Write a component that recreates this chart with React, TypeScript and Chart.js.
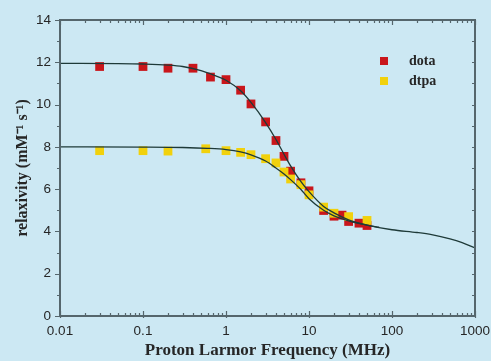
import React, { useEffect, useRef } from 'react';
import { Chart, registerables } from 'chart.js';
Chart.register(...registerables);

// ---- data ----
const xTickValues = [0.01, 0.1, 1, 10, 100, 1000];
const yTickValues = [0, 2, 4, 6, 8, 10, 12, 14];

const dotaFreq = [0.03, 0.1, 0.2, 0.4, 0.65, 1, 1.5, 2, 3, 4, 5, 6, 8, 10, 15, 20, 25, 30, 40, 50];
const dotaRelax = [11.8, 11.8, 11.72, 11.72, 11.3, 11.18, 10.68, 10.03, 9.18, 8.3, 7.55, 6.85, 6.3, 5.92, 4.99, 4.72, 4.77, 4.47, 4.39, 4.28];

const dtpaFreq = [0.03, 0.1, 0.2, 0.57, 1, 1.5, 2, 3, 4, 5, 6, 8, 10, 15, 20, 30, 50];
const dtpaRelax = [7.82, 7.82, 7.8, 7.91, 7.82, 7.74, 7.63, 7.44, 7.24, 6.81, 6.48, 6.21, 5.73, 5.15, 4.86, 4.7, 4.52];

const dotaFitFreq = [0.01, 0.05, 0.1, 0.2, 0.3, 0.5, 0.7, 1, 1.5, 2, 3, 4, 5, 6, 8, 10, 15, 20, 30, 50, 100, 200, 300, 500, 700, 1000];
const dotaFitRelax = [11.95, 11.94, 11.92, 11.87, 11.8, 11.6, 11.4, 11.15, 10.65, 10.1, 9.15, 8.35, 7.65, 7.1, 6.35, 5.88, 5.18, 4.88, 4.55, 4.3, 4.08, 3.95, 3.85, 3.65, 3.47, 3.22];

const dtpaFitFreq = [0.01, 0.1, 0.3, 0.6, 1, 1.5, 2, 3, 4, 5, 6, 8, 10, 15, 20, 30, 50, 70];
const dtpaFitRelax = [8.0, 7.99, 7.97, 7.93, 7.87, 7.76, 7.62, 7.33, 7.0, 6.72, 6.45, 5.98, 5.55, 5.0, 4.74, 4.5, 4.3, 4.2];

// ---- styles ----
const BG = '#cce8f3';
const RED = '#c9161b';
const YELLOW = '#f1d10c';
const LINE = '#1e3a38';
const AXIS = '#55666c';
const TEXT = '#262626';

const toPts = (xs: number[], ys: number[]) => xs.map((x, i) => ({ x, y: ys[i] }));

const bgPlugin = {
  id: 'bg',
  beforeDraw(chart: any) {
    const { ctx, width, height } = chart;
    ctx.save();
    ctx.fillStyle = BG;
    ctx.fillRect(0, 0, width, height);
    ctx.restore();
  },
};

const framePlugin = {
  id: 'frame',
  afterDraw(chart: any) {
    const { ctx, chartArea: a, scales } = chart;
    const x = scales.x;
    const y = scales.y;
    ctx.save();
    ctx.strokeStyle = AXIS;
    ctx.lineWidth = 1.2;
    for (let d = -2; d <= 3; d++) {
      for (let m = 1; m <= 9; m++) {
        const v = m * Math.pow(10, d);
        if (v > 1000.0001) continue;
        const px = Math.round(x.getPixelForValue(v)) + 0.5;
        const major = m === 1;
        const len = major ? 5 : 3;
        ctx.beginPath();
        ctx.moveTo(px, a.bottom + (major ? 2 : 0));
        ctx.lineTo(px, a.bottom - len);
        ctx.moveTo(px, a.top);
        ctx.lineTo(px, a.top + len);
        ctx.stroke();
      }
    }
    for (let v = 0; v <= 14; v++) {
      const py = Math.round(y.getPixelForValue(v)) + 0.5;
      const major = v % 2 === 0;
      ctx.beginPath();
      ctx.moveTo(a.left, py);
      ctx.lineTo(a.left - (major ? 5 : 3), py);
      ctx.moveTo(a.right, py);
      ctx.lineTo(a.right - 3, py);
      ctx.stroke();
    }
    ctx.lineWidth = 2;
    ctx.strokeRect(a.left, a.top, a.right - a.left, a.bottom - a.top);
    ctx.restore();
  },
};

const legendPlugin = {
  id: 'innerLegend',
  afterDraw(chart: any) {
    const { ctx, chartArea: a } = chart;
    const items = chart.data.datasets.filter((d: any) => d.showInLegend);
    ctx.save();
    ctx.font = 'bold 14px "Liberation Serif"';
    ctx.textBaseline = 'middle';
    ctx.textAlign = 'left';
    items.forEach((d: any, i: number) => {
      const cx = a.left + 324;
      const cy = a.top + 41 + i * 20;
      ctx.fillStyle = d.backgroundColor;
      ctx.fillRect(cx - 4, cy - 4, 8, 8);
      ctx.fillStyle = TEXT;
      ctx.fillText(d.label, cx + 25, cy);
    });
    ctx.restore();
  },
};

export default function App() {
  const ref = useRef<HTMLCanvasElement>(null);

  useEffect(() => {
    document.body.style.margin = '0';
    document.body.style.background = BG;
    const canvas = ref.current;
    if (!canvas) return;
    const chart = new Chart(canvas, {
      type: 'scatter',
      data: {
        datasets: [
          {
            label: 'dota',
            data: toPts(dotaFreq, dotaRelax),
            pointStyle: 'rect',
            pointRadius: 6.2,
            backgroundColor: RED,
            borderWidth: 0,
            showInLegend: true,
            order: 2,
          } as any,
          {
            label: 'dtpa',
            data: toPts(dtpaFreq, dtpaRelax),
            pointStyle: 'rect',
            pointRadius: 6.2,
            backgroundColor: YELLOW,
            borderWidth: 0,
            showInLegend: true,
            order: 1,
          } as any,
          {
            label: 'dota fit',
            data: toPts(dotaFitFreq, dotaFitRelax),
            showLine: true,
            pointRadius: 0,
            borderColor: LINE,
            borderWidth: 1.3,
            cubicInterpolationMode: 'monotone',
            order: 0,
          } as any,
          {
            label: 'dtpa fit',
            data: toPts(dtpaFitFreq, dtpaFitRelax),
            showLine: true,
            pointRadius: 0,
            borderColor: LINE,
            borderWidth: 1.3,
            cubicInterpolationMode: 'monotone',
            order: 0,
          } as any,
        ],
      },
      options: {
        animation: false,
        responsive: false,
        maintainAspectRatio: false,
        layout: { padding: { top: 20, right: 16, left: 0, bottom: 0 } },
        plugins: {
          legend: { display: false },
          tooltip: { enabled: false },
        },
        scales: {
          x: {
            type: 'logarithmic',
            min: 0.01,
            max: 1000,
            afterBuildTicks: (s: any) => {
              s.ticks = xTickValues.map((v) => ({ value: v }));
            },
            afterFit: (s: any) => {
              s.height = 45;
              s.paddingLeft = 0;
              s.paddingRight = 0;
            },
            ticks: {
              autoSkip: false,
              maxRotation: 0,
              padding: 7,
              color: TEXT,
              font: { family: '"Liberation Sans"', size: 13.5 },
              callback: (v: any) => String(v),
            },
            grid: { display: false, drawTicks: false },
            border: { display: false },
            title: {
              display: true,
              text: 'Proton Larmor Frequency (MHz)',
              color: TEXT,
              font: { family: '"Liberation Serif"', size: 17, weight: 'bold' },
              padding: { top: 0, bottom: 0 },
            },
          },
          y: {
            type: 'linear',
            min: 0,
            max: 14,
            afterBuildTicks: (s: any) => {
              s.ticks = yTickValues.map((v) => ({ value: v }));
            },
            afterFit: (s: any) => {
              s.width = 60;
            },
            ticks: {
              padding: 9,
              color: TEXT,
              font: { family: '"Liberation Sans"', size: 13.5 },
            },
            grid: { display: false, drawTicks: false },
            border: { display: false },
            title: {
              display: true,
              text: 'relaxivity (mM⁻¹ s⁻¹)',
              color: TEXT,
              font: { family: '"Liberation Serif"', size: 16, weight: 'bold' },
              padding: { top: 13, bottom: 0 },
            },
          },
        },
      },
      plugins: [bgPlugin, framePlugin, legendPlugin],
    } as any);
    return () => chart.destroy();
  }, []);

  return (
    <div style={{ width: 491, height: 361, background: BG }}>
      <canvas ref={ref} width={491} height={361} style={{ display: 'block' }} />
    </div>
  );
}
